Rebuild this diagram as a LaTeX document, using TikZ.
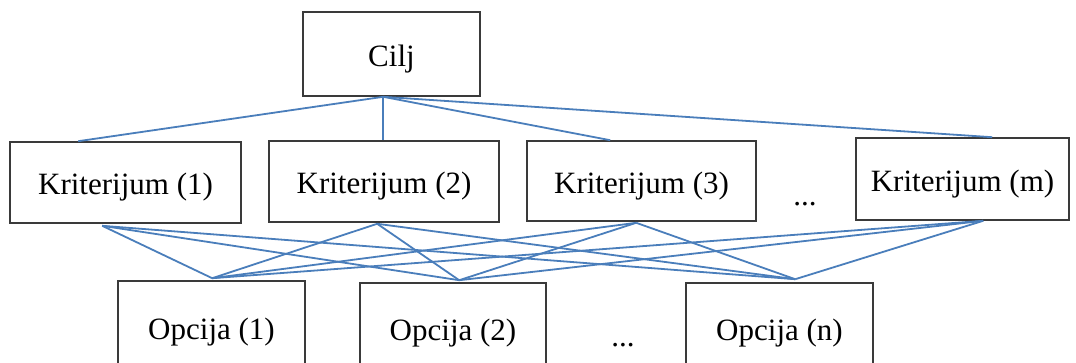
\documentclass[tikz,border=0pt]{standalone}
\usepackage{fontspec}
\setmainfont{Liberation Serif}
\definecolor{linkblue}{HTML}{4A7EBB}
\definecolor{boxgray}{HTML}{3A3A3A}
\begin{document}
\begin{tikzpicture}[x=1pt,y=-1pt,
  box/.style={draw=boxgray,line width=1.6pt,inner sep=0pt,rectangle,
    text height=31pt,text depth=7pt,
    font=\fontsize{31}{37}\selectfont},
  link/.style={draw=linkblue,line width=1.8pt},
  dots/.style={inner sep=0pt,font=\fontsize{31}{37}\selectfont}]
\useasboundingbox (0,0) rectangle (1076,362);
\clip (0,0) rectangle (1076,362);
\fill[white] (0,0) rectangle (1076,362);
% nodes
\node[box,minimum width=177pt,minimum height=84pt] (c) at (391.5,54) {Cilj};
\node[box,minimum width=231pt,minimum height=81pt] (k1) at (125.5,182.5) {Kriterijum (1)};
\node[box,minimum width=230pt,minimum height=81pt] (k2) at (384,181.5) {Kriterijum (2)};
\node[box,minimum width=229pt,minimum height=80pt] (k3) at (641.5,181) {Kriterijum (3)};
\node[box,minimum width=213pt,minimum height=82pt] (km) at (962.5,179) {Kriterijum (m)};
\node[dots,anchor=base] (kd) at (805,205) {...};
\node[box,minimum width=187pt,minimum height=92pt] (o1) at (211.5,327) {Opcija (1)};
\node[box,minimum width=186pt,minimum height=90pt] (o2) at (453,328) {Opcija (2)};
\node[box,minimum width=187pt,minimum height=90pt] (on) at (779.5,328) {Opcija (n)};
\node[dots,anchor=base] (od) at (623,346) {...};
% connection points
\coordinate (cb) at ([xshift=81pt]c.south west);
\coordinate (k1t) at ([xshift=69pt]k1.north west);
\coordinate (k2t) at ([xshift=115pt]k2.north west);
\coordinate (k3t) at ([xshift=84pt]k3.north west);
\coordinate (kmt) at ([xshift=137pt]km.north west);
\coordinate (k1b) at ([xshift=93pt,yshift=-2pt]k1.south west);
\coordinate (k2b) at ([xshift=109pt,yshift=-1pt]k2.south west);
\coordinate (k3b) at ([xshift=110pt,yshift=-1pt]k3.south west);
\coordinate (kmb) at ([xshift=128pt]km.south west);
\coordinate (o1t) at ([xshift=95pt,yshift=2pt]o1.north west);
\coordinate (o2t) at ([xshift=100pt,yshift=2pt]o2.north west);
\coordinate (ont) at ([xshift=110pt,yshift=3pt]on.north west);
% connectors
\foreach \k in {k1t,k2t,k3t,kmt} \draw[link] (cb) -- (\k);
\foreach \k in {k1b,k2b,k3b,kmb}
  \foreach \o in {o1t,o2t,ont}
    \draw[link] (\k) -- (\o);
\end{tikzpicture}
\end{document}
